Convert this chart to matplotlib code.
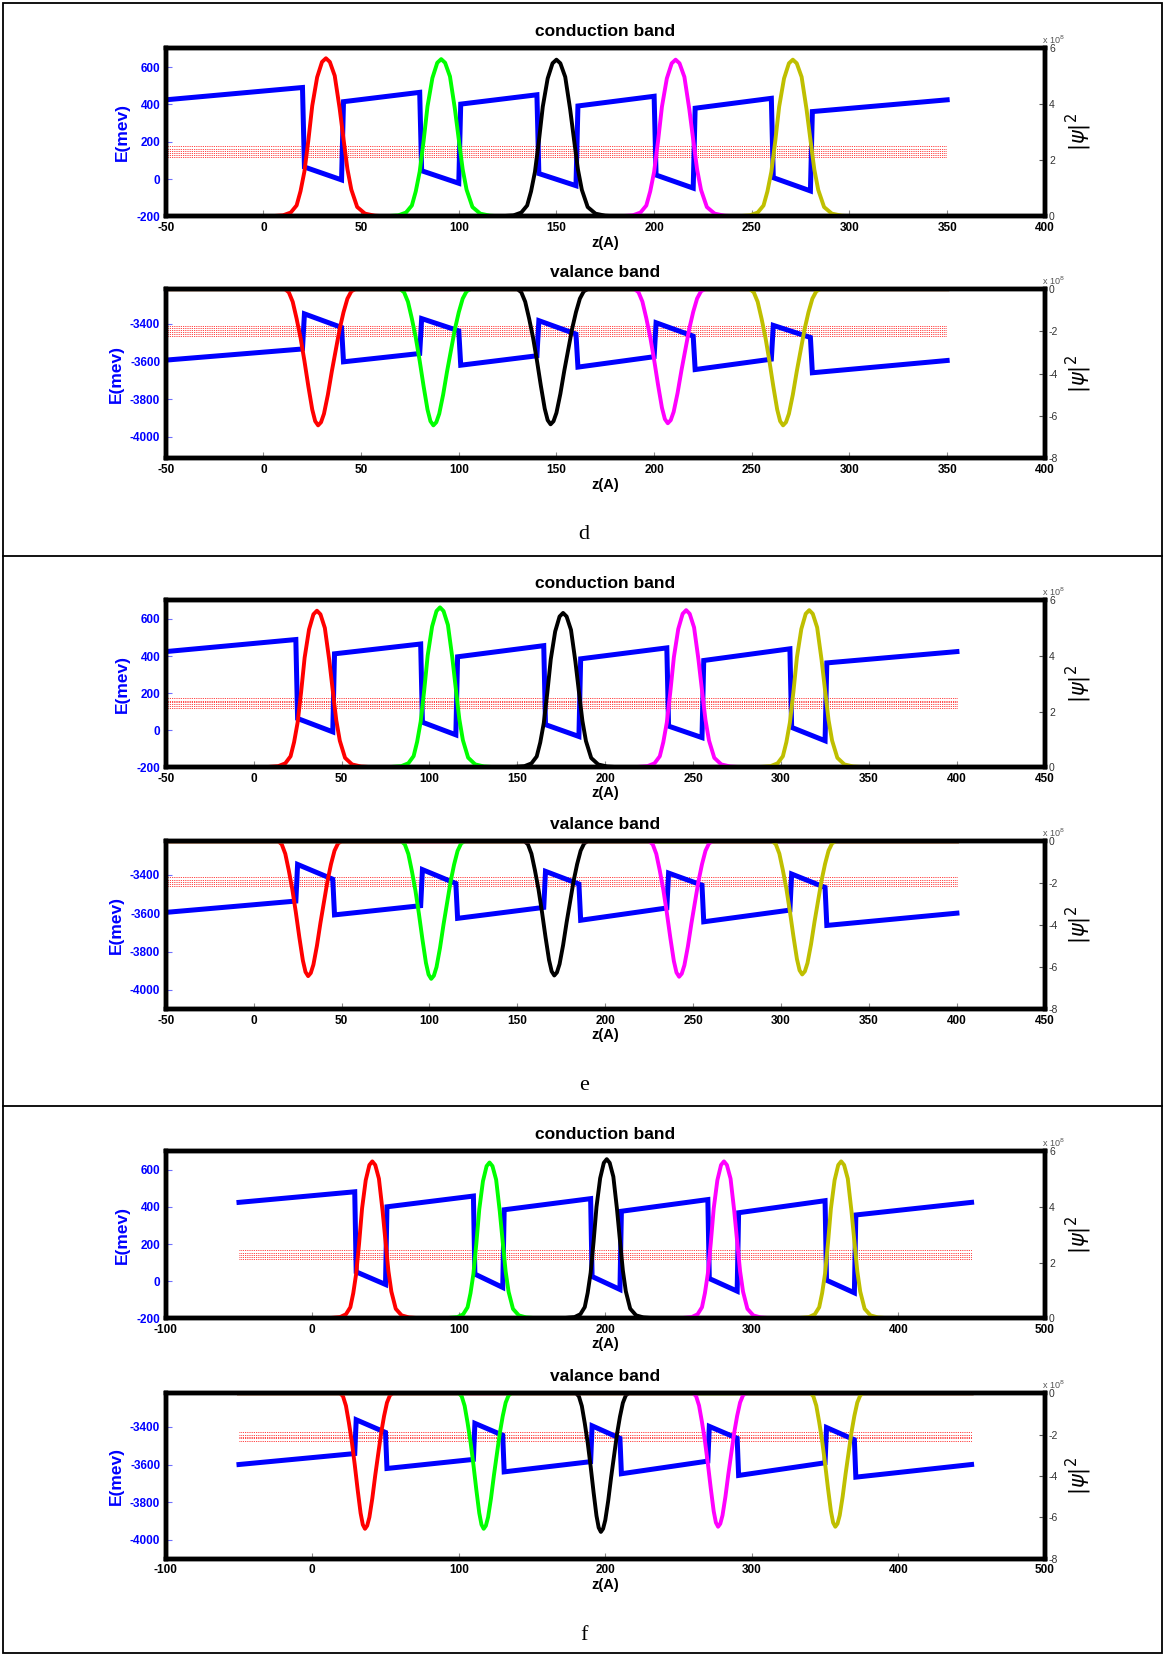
import matplotlib.pyplot as plt
from matplotlib.patches import Rectangle
from matplotlib.lines import Line2D

plt.rcParams['font.family'] = ['Liberation Sans', 'DejaVu Sans']
plt.rcParams['axes.unicode_minus'] = False

#------------------------------------------------------------------------------------
# Data  (z in A, E in meV, |psi|^2 in units of 1e-8)
labels = ('d', 'e', 'f')
wave_colors = ('#ff0000', '#00ff00', '#000000', '#ff00ff', '#bfbf00')

xlims = ((-50, 400), (-50, 450), (-100, 500))
xsteps = (50, 50, 100)

# band edge profiles (same z grid for conduction and valance band)
z_d = [-50, 20, 21, 40, 41, 80, 81, 100, 101, 140, 141, 160, 161, 200, 201, 220, 221, 260, 261, 280, 281, 350]
z_e = [-50, 24, 25, 45, 46, 95, 96, 115, 116, 165, 166, 185, 186, 235, 236, 255, 256, 305, 306, 325, 326, 400]
z_f = [-50, 29, 30, 50, 51, 110, 111, 130, 131, 190, 191, 210, 211, 270, 271, 290, 291, 350, 351, 370, 371, 450]

cb_E_d = [425, 491, 65, -4, 415, 465, 45, -22, 402, 452, 30, -35, 392, 444, 22, -48, 380, 433, 8, -63, 362, 425]
cb_E_e = [424, 489, 63, -9, 412, 465, 43, -25, 396, 456, 30, -34, 385, 444, 22, -40, 376, 439, 15, -57, 363, 424]
cb_E_f = [425, 482, 50, -18, 401, 459, 38, -34, 385, 445, 25, -45, 377, 440, 14, -54, 369, 434, 5, -63, 357, 425]

vb_E_d = [-3593, -3534, -3348, -3420, -3602, -3558, -3373, -3438, -3620, -3570, -3384,
          -3455, -3630, -3575, -3395, -3466, -3643, -3588, -3409, -3473, -3660, -3595]
vb_E_e = [-3596, -3537, -3346, -3423, -3609, -3561, -3373, -3445, -3627, -3570, -3382,
          -3448, -3637, -3573, -3391, -3454, -3645, -3584, -3396, -3466, -3664, -3600]
vb_E_f = [-3600, -3542, -3363, -3430, -3621, -3573, -3382, -3445, -3639, -3585, -3395,
          -3461, -3649, -3582, -3398, -3461, -3658, -3591, -3404, -3469, -3667, -3600]

# energy levels (red dotted)
cb_levels_d = [118, 129, 140, 151, 164, 177]
cb_levels_e = [122, 132, 141, 150, 160, 171]
cb_levels_f = [122, 132, 143, 154, 167]
vb_levels_d = [-3414, -3424, -3434, -3444, -3454, -3464]
vb_levels_e = [-3414, -3425, -3436, -3447, -3458]
vb_levels_f = [-3430, -3441, -3452, -3462, -3473]

# wavefunction peak positions and heights
cb_peak_z_d = [32, 91, 150, 211, 271]
cb_peak_h_d = [5.65, 5.62, 5.6, 5.6, 5.6]
cb_peak_z_e = [36, 106, 176, 246, 316]
cb_peak_h_e = [5.63, 5.75, 5.55, 5.65, 5.65]
cb_peak_z_f = [41, 121, 201, 281, 361]
cb_peak_h_f = [5.64, 5.6, 5.72, 5.64, 5.64]

vb_peak_z_d = [28, 87, 147, 207, 266]
vb_peak_h_d = [-6.45, -6.45, -6.4, -6.35, -6.45]
vb_peak_z_e = [31, 101, 171, 242, 312]
vb_peak_h_e = [-6.43, -6.56, -6.4, -6.46, -6.35]
vb_peak_z_f = [36, 117, 197, 277, 357]
vb_peak_h_f = [-6.55, -6.55, -6.7, -6.45, -6.45]

# peak shapes (offset from peak, fraction of peak height)
cb_dz = [-30, -22, -18, -15, -13, -11, -9, -7, -4.5, -2, 0, 2, 4.5, 7, 9, 11, 13, 16, 20, 25, 32]
cb_shape = [0, 0.007, 0.025, 0.07, 0.16, 0.285, 0.48, 0.70, 0.88, 0.977, 1.0,
            0.977, 0.89, 0.685, 0.49, 0.30, 0.17, 0.06, 0.018, 0.005, 0]
vb_dz = [-17, -15, -13, -11, -9, -7, -5, -3, -1.5, 0, 1.5, 3, 5, 7, 9, 11, 13, 15, 17, 19]
vb_shape = [0, 0.023, 0.093, 0.217, 0.357, 0.527, 0.713, 0.884, 0.969, 1.0,
            0.977, 0.915, 0.775, 0.605, 0.45, 0.295, 0.17, 0.07, 0.016, 0]

cb_ylim = (-200, 700)
cb_yticks = (-200, 0, 200, 400, 600)
vb_ylims = ((-4112, -3217), (-4100, -3225), (-4100, -3222))
vb_yticks = (-4000, -3800, -3600, -3400)

#------------------------------------------------------------------------------------
# Layout
cb_boxes = ((0.1425, 0.8692, 0.7559, 0.1015), (0.1425, 0.5364, 0.7559, 0.1008), (0.1425, 0.2035, 0.7559, 0.1008))
vb_boxes = ((0.1425, 0.7232, 0.7559, 0.1021), (0.1425, 0.3903, 0.7559, 0.1014), (0.1425, 0.0581, 0.7559, 0.1001))
letter_y = (0.677, 0.3444, 0.0115)
divider_y = (0.6639, 0.3317)

z_all = (z_d, z_e, z_f)
cb_E = (cb_E_d, cb_E_e, cb_E_f)
vb_E = (vb_E_d, vb_E_e, vb_E_f)
cb_levels = (cb_levels_d, cb_levels_e, cb_levels_f)
vb_levels = (vb_levels_d, vb_levels_e, vb_levels_f)
cb_peak_z = (cb_peak_z_d, cb_peak_z_e, cb_peak_z_f)
cb_peak_h = (cb_peak_h_d, cb_peak_h_e, cb_peak_h_f)
vb_peak_z = (vb_peak_z_d, vb_peak_z_e, vb_peak_z_f)
vb_peak_h = (vb_peak_h_d, vb_peak_h_e, vb_peak_h_f)

fig = plt.figure(figsize=(11.63, 16.55), dpi=100)


def band_plot(box, title, xlim, xstep, z, E, levels, ylim, yticks,
              peak_z, peak_h, dz, shape, ylim2, yticks2, ylab_x):
    ax = fig.add_axes(box)
    ax.hlines(levels, z[0], z[-1], colors='#ff0000', linestyles=(0, (1, 1.2)), lw=0.6)
    ax.plot(z, E, color='#0000ff', lw=3.6, solid_joinstyle='miter')
    ax.set_xlim(xlim)
    ax.set_ylim(ylim)
    ax.set_xticks(range(xlim[0], xlim[1] + 1, xstep))
    ax.set_yticks(yticks)

    ax2 = ax.twinx()
    for c, h, col in zip(peak_z, peak_h, wave_colors):
        wz = [z[0]] + [c + d for d in dz] + [z[-1]]
        wv = [0] + [h * s for s in shape] + [0]
        ax2.plot(wz, wv, color=col, lw=2.8)
    ax2.set_ylim(ylim2)
    ax2.set_yticks(yticks2)

    for a in (ax, ax2):
        for s in a.spines.values():
            s.set_linewidth(3.2)
            s.set_color('black')

    ax.tick_params(axis='x', direction='in', length=4, width=0.8, color='#8a8a8a',
                   labelsize=8.5, pad=4, top=False)
    ax.tick_params(axis='y', direction='in', length=4, width=0.8, color='#7070ff',
                   labelcolor='#0000ff', labelsize=8.5, pad=4, right=False)
    ax2.tick_params(axis='y', direction='in', length=4, width=0.8, color='#555555',
                    labelcolor='#333333', labelsize=7.5, pad=3)
    plt.setp(ax.get_xticklabels(), fontweight='bold')
    plt.setp(ax.get_yticklabels(), fontweight='bold')

    ax.set_xlabel('z(A)', fontweight='bold', fontsize=10.5, va='center')
    ax.xaxis.set_label_coords(0.5, -0.157)
    ax.set_ylabel('E(mev)', color='#0000ff', fontweight='bold', fontsize=12.5, va='center')
    ax.yaxis.set_label_coords(ylab_x, 0.5)
    ax2.set_ylabel(r'$|\psi|^2$', fontsize=15, rotation=90, va='center')
    ax2.yaxis.set_label_coords(1.039, 0.5)

    ax.text(0.5, 1.10, title, transform=ax.transAxes, ha='center', va='center',
            fontsize=12.5, fontweight='bold')
    ax.text(0.997, 1.015, r'x 10$^{8}$', transform=ax.transAxes, ha='left', va='bottom',
            fontsize=6.5, color='#555555')


for p in range(0, 3):
    band_plot(cb_boxes[p], 'conduction band', xlims[p], xsteps[p], z_all[p], cb_E[p], cb_levels[p],
              cb_ylim, cb_yticks, cb_peak_z[p], cb_peak_h[p], cb_dz, cb_shape,
              (0, 6), (0, 2, 4, 6), -0.049)
    band_plot(vb_boxes[p], 'valance band', xlims[p], xsteps[p], z_all[p], vb_E[p], vb_levels[p],
              vb_ylims[p], vb_yticks, vb_peak_z[p], vb_peak_h[p], vb_dz, vb_shape,
              (-8, 0), (-8, -6, -4, -2, 0), -0.056)
    fig.text(0.502, letter_y[p], labels[p], fontsize=16, family='Liberation Serif',
             ha='center', va='center')

# frame and separators
fig.add_artist(Rectangle((0.0025, 0.0012), 0.997, 0.9968, transform=fig.transFigure,
                         fill=False, lw=1.3, ec='black'))
for y in divider_y:
    fig.add_artist(Line2D([0.0025, 0.9995], [y, y], transform=fig.transFigure, color='black', lw=1.3))

fig.savefig('out.png', dpi=100)
